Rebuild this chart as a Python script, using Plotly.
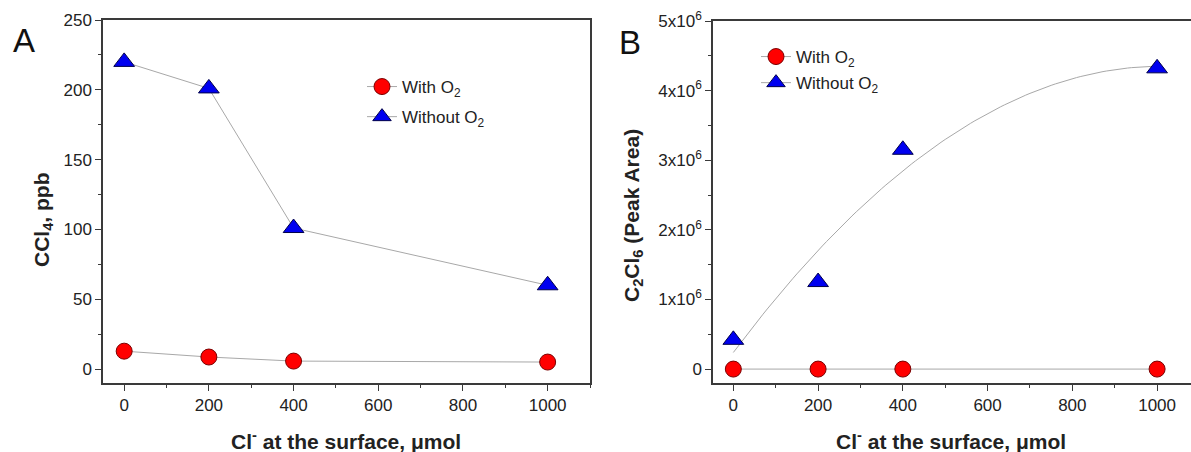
import numpy as np
import plotly.graph_objects as go

# ---- data ----
cl_umol = [0, 200, 400, 1000]
ccl4_with_o2 = [12.8, 8.6, 5.7, 5.0]
ccl4_without_o2 = [220, 201, 101, 60]
c2cl6_with_o2 = [0, 0, 0, 0]
c2cl6_without_o2 = [0.42e6, 1.25e6, 3.15e6, 4.32e6]

a_yticks = [0, 50, 100, 150, 200, 250]
b_yticks = [0, 1e6, 2e6, 3e6, 4e6, 5e6]
b_yticklabels = ["0", "1x10<sup>6</sup>", "2x10<sup>6</sup>", "3x10<sup>6</sup>",
                 "4x10<sup>6</sup>", "5x10<sup>6</sup>"]
x_ticks = [0, 200, 400, 600, 800, 1000]

# quadratic fit of C2Cl6 without O2 (as in the original figure)
coef = np.polyfit(cl_umol, c2cl6_without_o2, 2)
fit_x = np.linspace(0, 1000, 101)
fit_y = np.polyval(coef, fit_x)

W, H = 1191, 452
FONT = "Arial, Liberation Sans, sans-serif"
LINEC = "#a8a8a8"
AXC = "#3a3a3a"
RED = "#ff0000"
BLUE = "#0000f0"

circle = dict(symbol="circle", size=16, color=RED, line=dict(color="#7a0000", width=1))
tri = dict(symbol="triangle-up", size=18, color=BLUE, line=dict(color="#00004a", width=1))

fig = go.Figure()
# Panel A
fig.add_trace(go.Scatter(x=cl_umol, y=ccl4_with_o2, mode="lines+markers", name="With O<sub>2</sub>",
                         marker=circle, line=dict(color=LINEC, width=1), xaxis="x", yaxis="y",
                         legend="legend", legendgroup="a1"))
fig.add_trace(go.Scatter(x=cl_umol, y=ccl4_without_o2, mode="lines+markers", name="Without O<sub>2</sub>",
                         marker=tri, line=dict(color=LINEC, width=1), xaxis="x", yaxis="y",
                         legend="legend", legendgroup="a2"))
# Panel B
fig.add_trace(go.Scatter(x=cl_umol, y=c2cl6_with_o2, mode="lines+markers", name="With O<sub>2</sub>",
                         marker=circle, line=dict(color=LINEC, width=1), xaxis="x2", yaxis="y2",
                         legend="legend2", legendgroup="b1"))
fig.add_trace(go.Scatter(x=fit_x, y=fit_y, mode="lines", showlegend=False,
                         line=dict(color=LINEC, width=1), xaxis="x2", yaxis="y2"))
fig.add_trace(go.Scatter(x=cl_umol, y=c2cl6_without_o2, mode="markers", showlegend=False,
                         marker=tri, xaxis="x2", yaxis="y2"))
fig.add_trace(go.Scatter(x=[None], y=[None], mode="lines+markers", name="Without O<sub>2</sub>",
                         marker=tri, line=dict(color=LINEC, width=1), xaxis="x2", yaxis="y2",
                         legend="legend2", legendgroup="b2"))

def px_x(p):
    return p / W

def px_y(p):
    return 1 - p / H

axis_common = dict(showline=True, linecolor=AXC, linewidth=1.5, ticks="outside", ticklen=6,
                   tickwidth=1.2, tickcolor=AXC, showgrid=False, zeroline=False,
                   tickfont=dict(family=FONT, size=17, color="#222"), automargin=False)

fig.update_layout(
    width=W, height=H, margin=dict(l=0, r=0, t=0, b=0),
    paper_bgcolor="white", plot_bgcolor="white",
    font=dict(family=FONT, color="#222"),
    xaxis=dict(domain=[px_x(103), px_x(590)], range=[-50, 1100], tickvals=x_ticks, mirror=True,
               minor=dict(dtick=100, tick0=0, ticks="outside", ticklen=3, tickcolor=AXC), anchor="y",
               **axis_common),
    yaxis=dict(domain=[px_y(383), px_y(20)], range=[-10, 250], tickvals=a_yticks, mirror=True,
               minor=dict(dtick=25, tick0=0, ticks="outside", ticklen=3, tickcolor=AXC), anchor="x",
               **axis_common),
    xaxis2=dict(domain=[px_x(713), 1], range=[-48, 1080], tickvals=x_ticks, mirror=True,
                minor=dict(dtick=100, tick0=0, ticks="outside", ticklen=3, tickcolor=AXC), anchor="y2",
                **axis_common),
    yaxis2=dict(domain=[px_y(383), px_y(21)], range=[-0.2e6, 5e6], tickvals=b_yticks,
                ticktext=b_yticklabels, mirror=False,
                minor=dict(dtick=0.5e6, tick0=0, ticks="outside", ticklen=3, tickcolor=AXC), anchor="x2",
                **axis_common),
    legend=dict(x=px_x(362), y=px_y(69), xanchor="left", yanchor="top", bgcolor="rgba(0,0,0,0)",
                font=dict(family=FONT, size=17, color="#222"), tracegroupgap=5, itemwidth=30),
    legend2=dict(x=px_x(756), y=px_y(39), xanchor="left", yanchor="top", bgcolor="rgba(0,0,0,0)",
                 font=dict(family=FONT, size=17, color="#222"), tracegroupgap=1, itemwidth=30),
)

ann = []
ann.append(dict(text="A", x=px_x(24), y=px_y(41), xref="paper", yref="paper", showarrow=False,
                xanchor="center", yanchor="middle", font=dict(family=FONT, size=33, color="#111")))
ann.append(dict(text="B", x=px_x(630), y=px_y(42), xref="paper", yref="paper", showarrow=False,
                xanchor="center", yanchor="middle", font=dict(family=FONT, size=33, color="#111")))
xt = "<b>Cl<sup>-</sup> at the surface, μmol</b>"
ann.append(dict(text=xt, x=px_x(346), y=px_y(440), xref="paper", yref="paper", showarrow=False,
                xanchor="center", yanchor="middle", font=dict(family=FONT, size=21, color="#222")))
ann.append(dict(text=xt, x=px_x(951), y=px_y(440), xref="paper", yref="paper", showarrow=False,
                xanchor="center", yanchor="middle", font=dict(family=FONT, size=21, color="#222")))
ann.append(dict(text="<b>CCl<sub>4</sub>, ppb</b>", x=px_x(43), y=px_y(220), xref="paper", yref="paper",
                showarrow=False, textangle=-90, xanchor="center", yanchor="middle",
                font=dict(family=FONT, size=21, color="#222")))
ann.append(dict(text="<b>C<sub>2</sub>Cl<sub>6</sub> (Peak Area)</b>", x=px_x(633), y=px_y(216),
                xref="paper", yref="paper", showarrow=False, textangle=-90,
                xanchor="center", yanchor="middle",
                font=dict(family=FONT, size=21, color="#222")))
fig.update_layout(annotations=ann)

fig.write_html("out.html")
